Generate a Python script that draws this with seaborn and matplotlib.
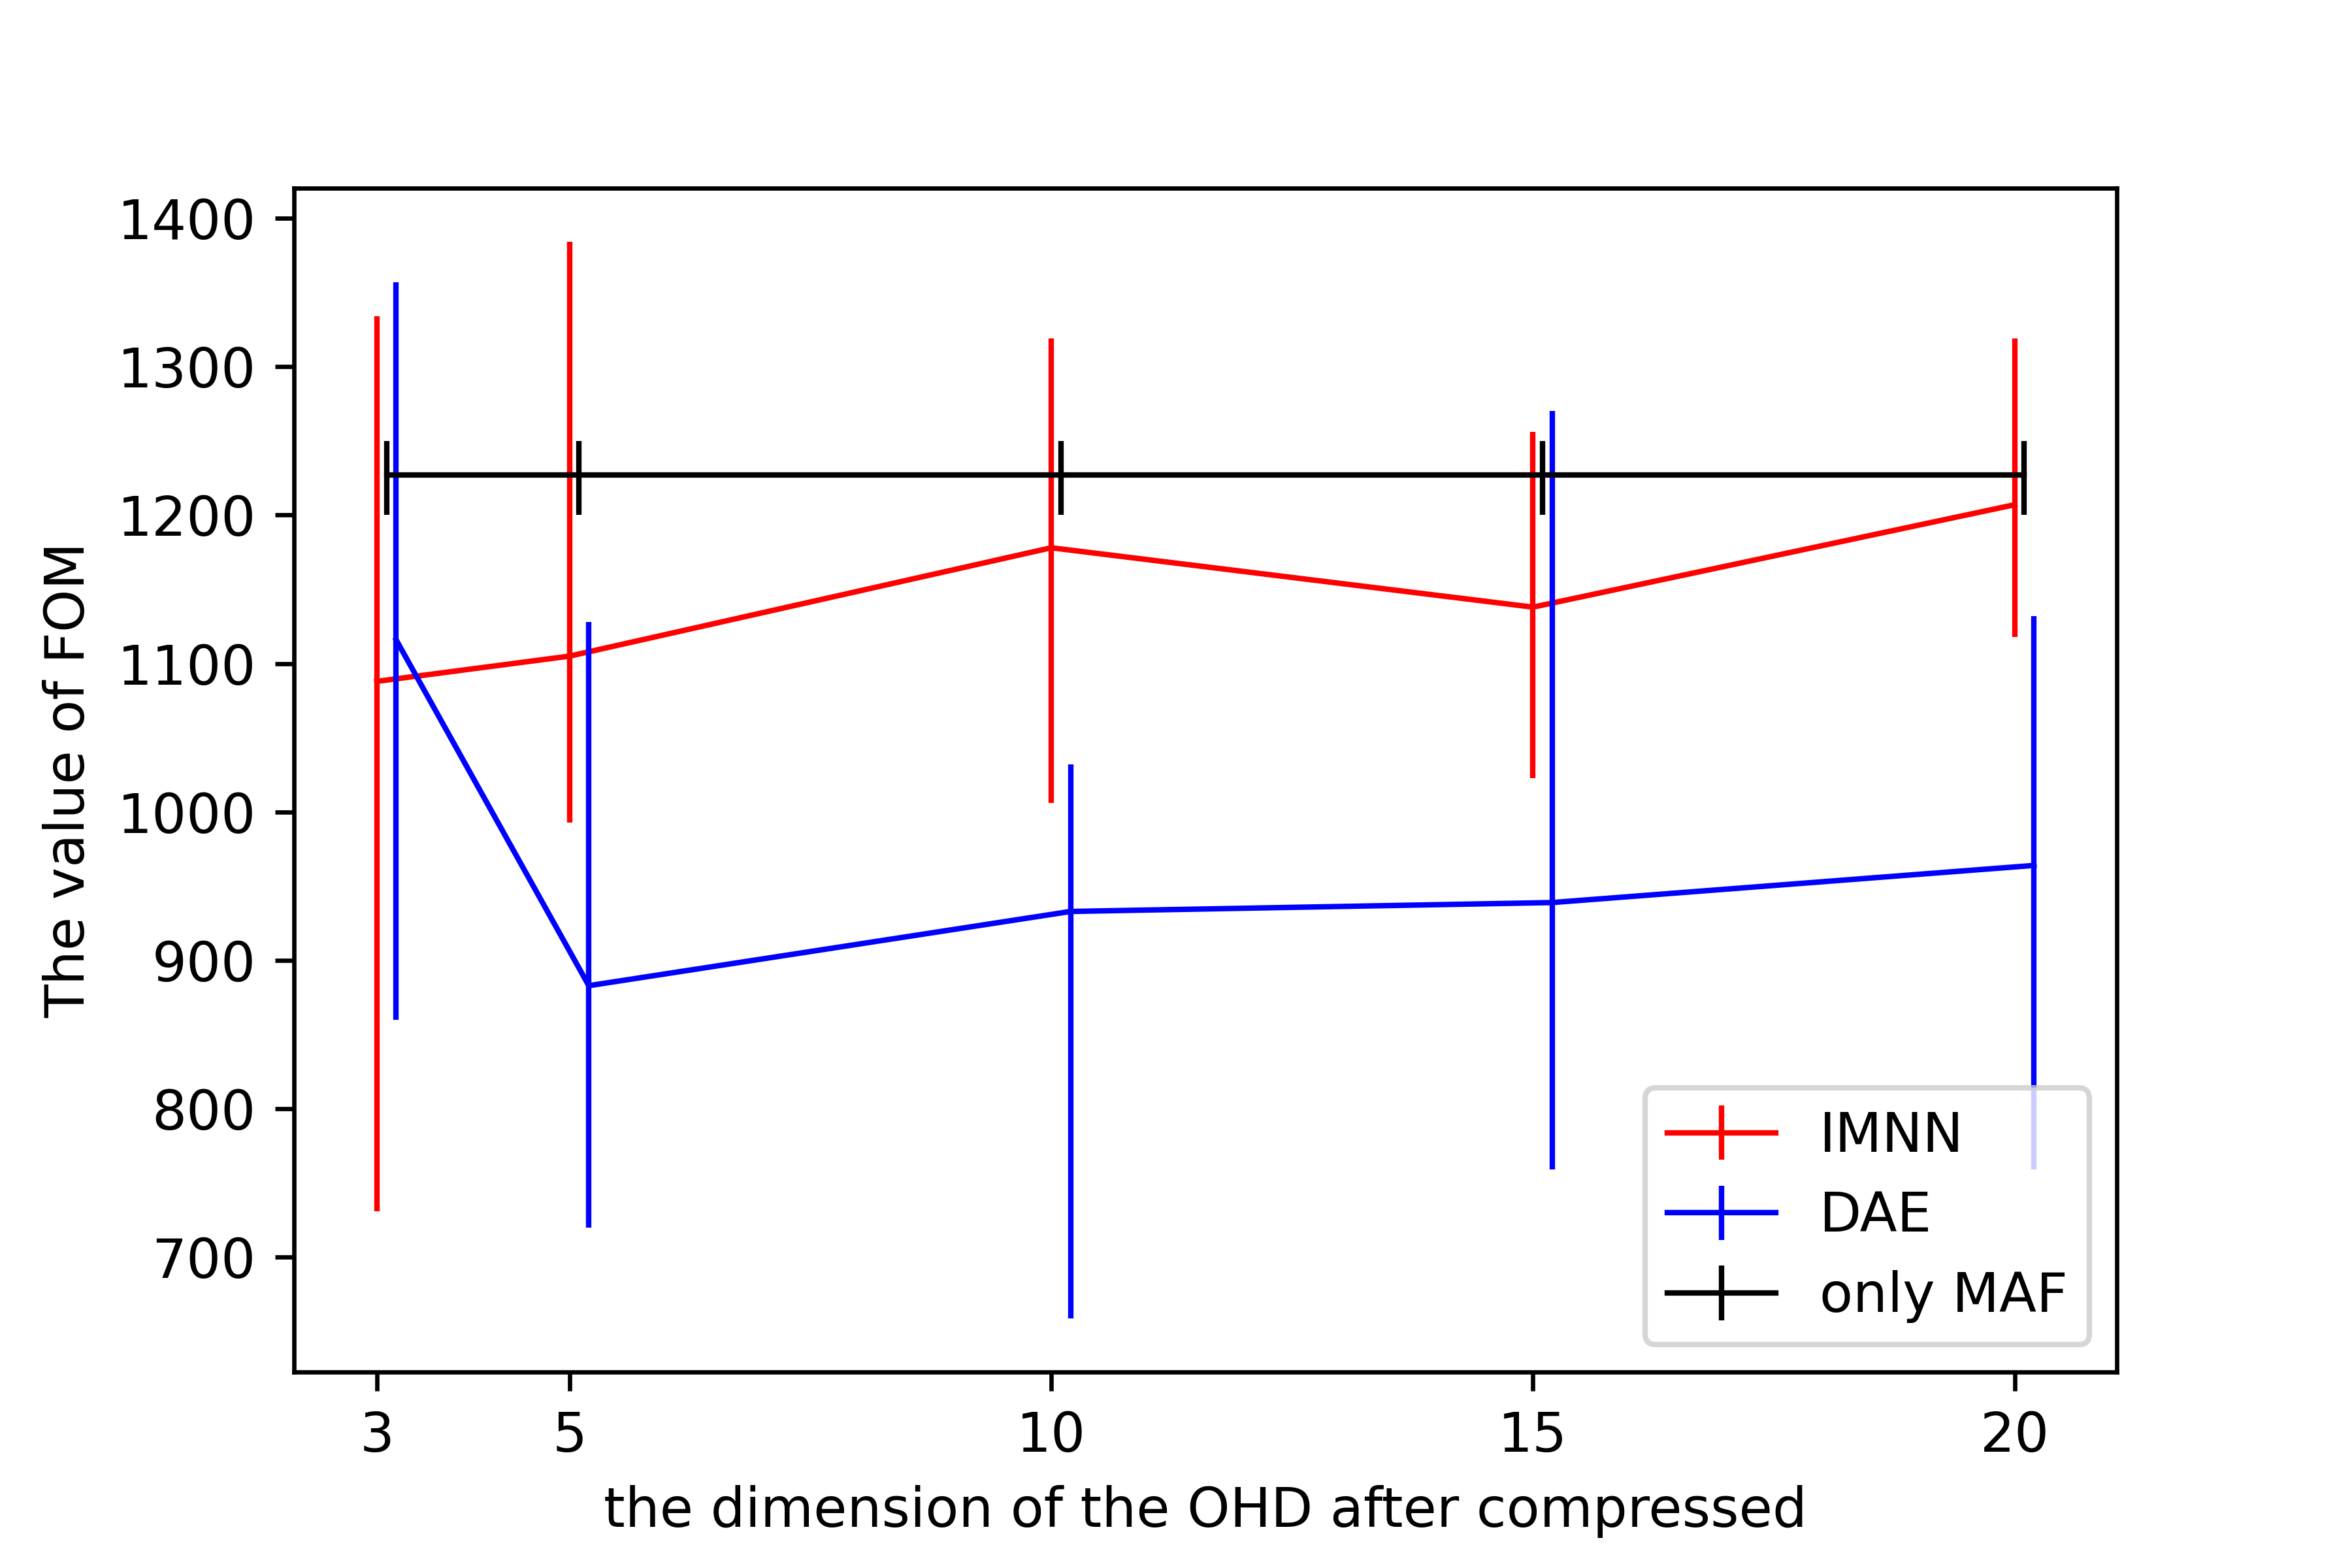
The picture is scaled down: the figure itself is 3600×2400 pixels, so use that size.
import numpy as np
import pandas as pd
import matplotlib
matplotlib.use("Agg")
import matplotlib.pyplot as plt
import seaborn as sns
from matplotlib.container import ErrorbarContainer

# ---- data ----
dims = [3, 5, 10, 15, 20]

imnn_x = [3, 5, 10, 15, 20]
imnn_y = [1088, 1105, 1178, 1138, 1207]
imnn_err_low = [357, 112, 172, 115, 89]
imnn_err_high = [246, 279, 141, 118, 112]

dae_x = [3.2, 5.2, 10.2, 15.2, 20.2]
dae_y = [1116, 883, 933, 939, 964]
dae_err_low = [256, 163, 274, 180, 205]
dae_err_high = [241, 245, 99, 331, 168]

maf_x = [3.1, 5.1, 10.1, 15.1, 20.1]
maf_y = [1227, 1227, 1227, 1227, 1227]
maf_err_low = [27, 27, 27, 27, 27]
maf_err_high = [23, 23, 23, 23, 23]

labels = ["IMNN", "DAE", "only MAF"]
colors = ["red", "blue", "black"]

fig, ax = plt.subplots(figsize=(6, 4), dpi=600)
fig.subplots_adjust(left=0.125, right=0.9, top=0.88, bottom=0.125)

series = [
    (imnn_x, imnn_y, imnn_err_low, imnn_err_high),
    (dae_x, dae_y, dae_err_low, dae_err_high),
    (maf_x, maf_y, maf_err_low, maf_err_high),
]

handles = []
for (xs, ys, lo, hi), lab, col in zip(series, labels, colors):
    df = pd.DataFrame({"x": xs, "y": ys})
    n_before = len(ax.lines)
    sns.lineplot(data=df, x="x", y="y", ax=ax, color=col, linewidth=1,
                 errorbar=None, legend=False)
    line = ax.lines[n_before]
    eb = ax.errorbar(xs, ys, yerr=[lo, hi], fmt="none", ecolor=col,
                     elinewidth=1)
    barcols = eb.lines[2]
    cont = ErrorbarContainer((line, (), barcols), has_xerr=False,
                             has_yerr=True, label=lab)
    handles.append(cont)

ax.set_xticks(dims)
ax.set_xticklabels([str(d) for d in dims])
ax.set_xlabel("the dimension of the OHD after compressed")
ax.set_ylabel("The value of FOM")
ax.legend(handles=handles, labels=labels, loc="lower right")

fig.savefig("out.png", dpi=600)
